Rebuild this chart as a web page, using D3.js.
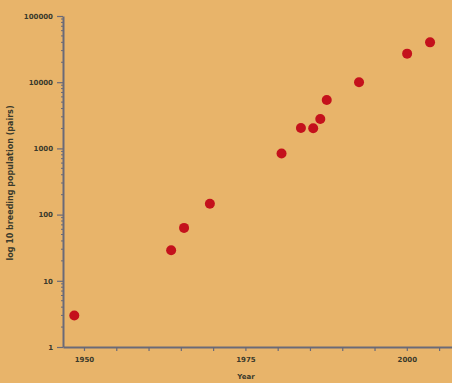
<!DOCTYPE html>
<html><head><meta charset="utf-8">
<script src="https://cdn.jsdelivr.net/npm/d3@7"></script>
<style>html,body{margin:0;padding:0;background:#e8b46a;}svg{display:block;}</style>
</head><body>
<script>
const years = [1948.5, 1963.5, 1965.5, 1969.5, 1980.6, 1983.6, 1985.5, 1986.6, 1987.6, 1992.6, 2000.05, 2003.6];
const pairs = [3, 29, 63, 146, 840, 2030, 2020, 2780, 5380, 10000, 27000, 40000];
const yTickValues = [1, 10, 100, 1000, 10000, 100000];
const yTickLabels = ["1", "10", "100", "1000", "10000", "100000"];
const xTickValues = [1950, 1955, 1960, 1965, 1970, 1975, 1980, 1985, 1990, 1995, 2000, 2005];
const xTickLabels = ["1950", "", "", "", "", "1975", "", "", "", "", "2000", ""];

const W = 452, H = 383;
const svg = d3.select("body").append("svg").attr("width", W).attr("height", H);
svg.append("rect").attr("width", W).attr("height", H).attr("fill", "#e8b46a");

const x = d3.scaleLinear().domain([1946.75, 2007]).range([63, 452]);
const y = d3.scaleLog().domain([1, 100000]).range([347, 16]);
const axisCol = "#6a6a78", textCol = "#3a3a2c";

// minor y ticks
const minor = [];
for (let d = 1; d < 100000; d *= 10) for (let k = 2; k <= 9; k++) minor.push(d * k);
const gy = svg.append("g");
gy.selectAll("line.minor").data(minor).join("line")
  .attr("x1", 61).attr("x2", 63).attr("y1", d => y(d)).attr("y2", d => y(d))
  .attr("stroke", axisCol).attr("stroke-width", 1);

const yAxis = d3.axisLeft(y).tickValues(yTickValues)
  .tickFormat((d, i) => yTickLabels[i]).tickSize(6).tickSizeOuter(0);
const ya = svg.append("g").attr("transform", "translate(63,0)").call(yAxis);
ya.select(".domain").attr("stroke", axisCol).attr("stroke-width", 2);
ya.selectAll(".tick line").attr("stroke", axisCol).attr("stroke-width", 1.2);
ya.selectAll(".tick text").attr("fill", textCol).attr("font-family", "DejaVu Sans")
  .attr("font-size", 7).attr("font-weight", "bold").attr("x", -10);

const xAxis = d3.axisBottom(x).tickValues(xTickValues)
  .tickFormat((d, i) => xTickLabels[i]).tickSize(4).tickSizeOuter(0);
const xa = svg.append("g").attr("transform", "translate(0,347)").call(xAxis);
xa.select(".domain").attr("stroke", axisCol).attr("stroke-width", 2);
xa.selectAll(".tick line").attr("stroke", axisCol).attr("stroke-width", 1.2);
xa.selectAll(".tick text").attr("fill", textCol).attr("font-family", "DejaVu Sans")
  .attr("font-size", 7).attr("font-weight", "bold").attr("y", 10);

svg.append("text").attr("x", 246).attr("y", 379).attr("text-anchor", "middle")
  .attr("fill", textCol).attr("font-family", "DejaVu Sans").attr("font-size", 7)
  .attr("font-weight", "bold").text("Year");
svg.append("text").attr("transform", "translate(13,183) rotate(-90)")
  .attr("text-anchor", "middle").attr("fill", textCol).attr("font-family", "DejaVu Sans")
  .attr("font-size", 8).attr("font-weight", "bold").text("log 10 breeding population (pairs)");

svg.append("g").selectAll("circle").data(years).join("circle")
  .attr("cx", d => x(d)).attr("cy", (d, i) => y(pairs[i])).attr("r", 5)
  .attr("fill", "#c4111c");
</script>
</body></html>
